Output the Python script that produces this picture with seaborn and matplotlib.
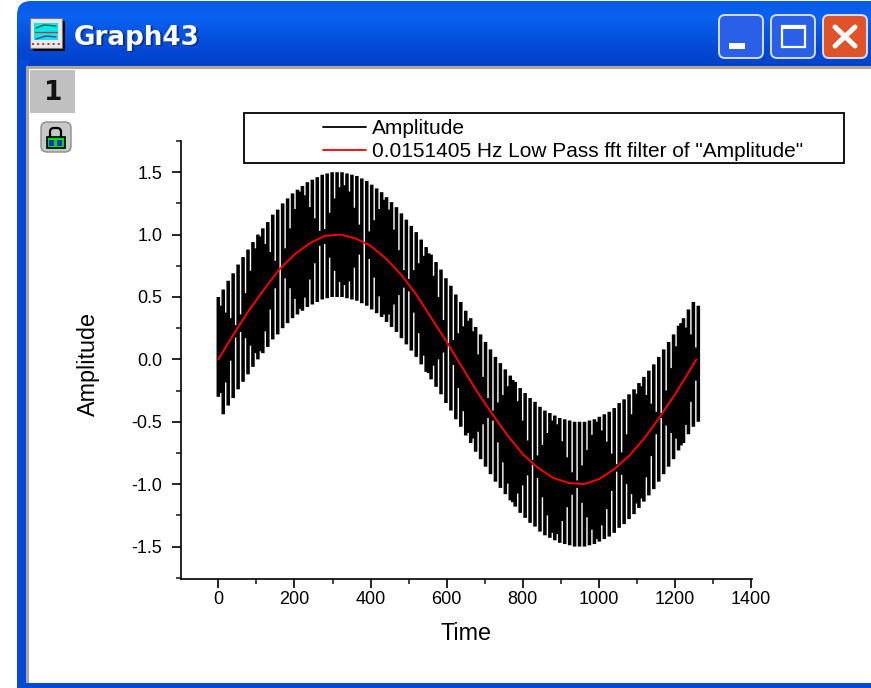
import numpy as np
import pandas as pd
import matplotlib
matplotlib.use("Agg")
import matplotlib.pyplot as plt
from matplotlib.lines import Line2D
from matplotlib.patches import FancyBboxPatch, Rectangle
from matplotlib.colors import LinearSegmentedColormap
from matplotlib.ticker import MultipleLocator
import seaborn as sns

# ---------- values ----------
spike_step = 13
peak_top = [0.50, 0.56, 0.63, 0.69, 0.76, 0.82, 0.88, 0.94, 1.00, 1.05,
            1.10, 1.16, 1.20, 1.25, 1.29, 1.33, 1.36, 1.39, 1.42, 1.44,
            1.46, 1.48, 1.49, 1.50, 1.50, 1.50, 1.49, 1.48, 1.47, 1.45,
            1.43, 1.40, 1.37, 1.34, 1.30, 1.26, 1.22, 1.17, 1.12, 1.07,
            1.02, 0.96, 0.90, 0.84, 0.78, 0.72, 0.65, 0.59, 0.52, 0.46,
            0.39, 0.33, 0.26, 0.20, 0.14, 0.08, 0.02, -0.03, -0.08, -0.13,
            -0.18, -0.23, -0.27, -0.31, -0.34, -0.38, -0.41, -0.43, -0.45, -0.47,
            -0.48, -0.49, -0.50, -0.50, -0.50, -0.49, -0.48, -0.46, -0.44, -0.42,
            -0.39, -0.35, -0.32, -0.28, -0.24, -0.19, -0.14, -0.09, -0.04, 0.02,
            0.08, 0.14, 0.20, 0.27, 0.33, 0.40, 0.46, 0.43]
peak_bottom = [-0.30, -0.44, -0.37, -0.31, -0.24, -0.18, -0.12, -0.06, 0.00, 0.05,
               0.10, 0.16, 0.20, 0.25, 0.29, 0.33, 0.36, 0.39, 0.42, 0.44,
               0.46, 0.48, 0.49, 0.50, 0.50, 0.50, 0.49, 0.48, 0.47, 0.45,
               0.43, 0.40, 0.37, 0.34, 0.30, 0.26, 0.22, 0.17, 0.12, 0.07,
               0.02, -0.04, -0.10, -0.16, -0.22, -0.28, -0.35, -0.41, -0.48, -0.54,
               -0.61, -0.67, -0.74, -0.80, -0.86, -0.92, -0.98, -1.03, -1.08, -1.13,
               -1.18, -1.23, -1.27, -1.31, -1.34, -1.38, -1.41, -1.43, -1.45, -1.47,
               -1.48, -1.49, -1.50, -1.50, -1.50, -1.49, -1.48, -1.46, -1.44, -1.42,
               -1.39, -1.35, -1.32, -1.28, -1.24, -1.19, -1.14, -1.09, -1.04, -0.98,
               -0.92, -0.86, -0.80, -0.73, -0.67, -0.60, -0.54, -0.50]
notch_depth = [0.10, 0.22, 0.33, 0.45, 0.43, 0.32, 0.20, 0.08, 0.04, 0.15,
               0.27, 0.39, 0.50, 0.38, 0.26, 0.14, 0.03, 0.09, 0.21, 0.32,
               0.44, 0.44, 0.32, 0.21, 0.12, 0.10, 0.14, 0.26, 0.38, 0.50,
               0.39, 0.27, 0.15, 0.04, 0.08, 0.20, 0.32, 0.43, 0.45, 0.33,
               0.22, 0.10, 0.02, 0.14, 0.25, 0.37, 0.49, 0.40, 0.28, 0.16,
               0.05, 0.07, 0.19, 0.31, 0.42, 0.46, 0.34, 0.23, 0.11, 0.01,
               0.13, 0.24, 0.36, 0.48, 0.41, 0.29, 0.17, 0.05, 0.06, 0.18,
               0.30, 0.41, 0.47, 0.35, 0.23, 0.12, 0.03, 0.12, 0.23, 0.35,
               0.47, 0.41, 0.30, 0.18, 0.06, 0.05, 0.17, 0.29, 0.41, 0.48,
               0.36, 0.24, 0.13, 0.01, 0.11, 0.23, 0.35]
filtered_time = [0, 40, 80, 120, 160, 200, 240, 280, 320, 360, 400, 440, 480, 520, 560, 600,
                 640, 680, 720, 760, 800, 840, 880, 920, 960, 1000, 1040, 1080, 1120, 1160,
                 1200, 1240, 1256]
filtered_amp = [0.00, 0.20, 0.39, 0.56, 0.72, 0.84, 0.93, 0.99, 1.00, 0.97, 0.91, 0.81, 0.68, 0.52, 0.33, 0.14,
                -0.06, -0.26, -0.44, -0.61, -0.76, -0.87, -0.95, -0.99, -1.00, -0.96, -0.88, -0.77, -0.63, -0.46,
                -0.28, -0.08, 0.00]
legend_labels = ["Amplitude", '0.0151405 Hz Low Pass fft filter of "Amplitude"']
x_label = "Time"
y_label = "Amplitude"
window_title = "Graph43"
layer_tab = "1"

# ---------- strokes of the dense signal, long form ----------
bar_time = np.arange(len(peak_top)) * spike_step
tops = np.array(peak_top)
bottoms = np.array(peak_bottom)
notch = np.array(notch_depth)
gap_time = bar_time[:-1] + spike_step / 2
gap_top = (tops[:-1] + tops[1:]) / 2 - notch
gap_bottom = (bottoms[:-1] + bottoms[1:]) / 2 + notch

n_bar, n_gap = len(bar_time), len(gap_time)
strokes = pd.DataFrame({
    "t": np.concatenate([bar_time, bar_time, gap_time, gap_time]),
    "y": np.concatenate([tops, bottoms, gap_top, gap_bottom]),
    "unit": np.concatenate([np.arange(n_bar), np.arange(n_bar),
                            n_bar + np.arange(n_gap), n_bar + np.arange(n_gap)]),
})
filtered = pd.DataFrame({"t": filtered_time, "y": filtered_amp})

sns.set_style("white")
plt.rcParams["font.family"] = ["Liberation Sans", "DejaVu Sans"]
plt.rcParams["axes.unicode_minus"] = False
plt.rcParams["text.color"] = "black"

W, H = 871, 688
fig = plt.figure(figsize=(W / 100, H / 100), dpi=100, facecolor="white")

# ---------- window frame, drawn in pixel coordinates ----------
bg = fig.add_axes([0, 0, 1, 1], zorder=0)
bg.set_xlim(0, W)
bg.set_ylim(H, 0)
bg.axis("off")

blue = LinearSegmentedColormap.from_list("xp", ["#0a5ae8", "#0a62f0", "#0554e2", "#0348d4", "#0043c8"])
head = FancyBboxPatch((17, 1), W + 40, 80, boxstyle="round,pad=0,rounding_size=14",
                      fc="none", ec="none", mutation_aspect=1)
bg.add_patch(head)
im = bg.imshow(np.linspace(0, 1, 70)[:, None], extent=(0, W, 68, 0), cmap=blue, aspect="auto", zorder=1)
im.set_clip_path(head)
bg.set_xlim(0, W)
bg.set_ylim(H, 0)
bg.add_patch(Rectangle((17, 60), 12, H, fc="#0449d8", ec="none", zorder=1))
bg.add_patch(Rectangle((26, 66), W, 620, fc="#aca899", ec="none", zorder=2))
bg.add_patch(Rectangle((29, 69), W, 614, fc="white", ec="none", zorder=3))
bg.add_patch(Rectangle((17, 683), W, 6, fc="#0449d8", ec="none", zorder=3.5))
bg.add_patch(Rectangle((30, 70), 45, 43, fc="#c0c0c0", ec="none", zorder=4))
bg.text(53, 93, layer_tab, fontsize=19, fontweight="bold", color="#111111",
        ha="center", va="center", family="DejaVu Sans", zorder=5)

# lock button
bg.add_patch(FancyBboxPatch((41, 122), 30, 30, boxstyle="round,pad=0,rounding_size=6",
                            fc="#c8c8c8", ec="#8c8c8c", lw=1, zorder=4))
bg.add_patch(Rectangle((47, 137), 18, 11, fc="#00e000", ec="black", lw=1.2, zorder=5))
bg.add_patch(Rectangle((49, 140), 5, 6, fc="#1030d0", ec="none", zorder=6))
bg.add_patch(Rectangle((57, 140), 5, 6, fc="#1030d0", ec="none", zorder=6))
bg.add_patch(FancyBboxPatch((50, 128), 11, 12, boxstyle="round,pad=0,rounding_size=4",
                            fc="none", ec="black", lw=1.6, zorder=4))

# title icon and title
bg.add_patch(Rectangle((33, 21), 32, 30, fc="black", ec="none", zorder=4))
bg.add_patch(Rectangle((30, 18), 32, 30, fc="#e8e8e8", ec="#777777", lw=0.8, zorder=5))
bg.add_patch(Rectangle((34, 23), 24, 17, fc="#00e8e8", ec="none", zorder=6))
bg.plot([35, 57], [32, 32], color="#d03030", lw=0.9, zorder=7)
bg.plot([36, 44, 56], [28, 25, 26], color="#206040", lw=1, zorder=7)
bg.plot([36, 46, 56], [39, 36, 37], color="#7030a0", lw=1, zorder=7)
bg.plot([32, 60], [44, 44], color="#c03030", lw=1.4, ls=":", zorder=7)
bg.text(75.5, 39.5, window_title, color="#0a2f90", fontsize=18.8, fontweight="bold",
        family="DejaVu Sans", ha="left", va="center", zorder=5)
bg.text(74, 38, window_title, color="white", fontsize=18.8, fontweight="bold",
        family="DejaVu Sans", ha="left", va="center", zorder=6)

# caption buttons
for x0, col in ((719, "#2a5fe8"), (771, "#2a5fe8"), (823, "#e0522a")):
    bg.add_patch(FancyBboxPatch((x0, 15), 44, 43, boxstyle="round,pad=0,rounding_size=6",
                                fc=col, ec="#d5def5", lw=1.4, zorder=4))
bg.add_patch(Rectangle((729, 43), 16, 6, fc="white", ec="none", zorder=5))
bg.add_patch(Rectangle((782, 26), 23, 21, fc="none", ec="white", lw=1.6, zorder=5))
bg.add_patch(Rectangle((782, 25), 23, 4, fc="white", ec="none", zorder=5))
bg.plot([835, 855], [27, 46], color="white", lw=3.6, zorder=5)
bg.plot([855, 835], [27, 46], color="white", lw=3.6, zorder=5)

# ---------- the plot ----------
L, R, T, B = 181, 752, 141, 579
ax = fig.add_axes([L / W, 1 - B / H, (R - L) / W, (B - T) / H], zorder=2)
ax.patch.set_alpha(0)

sns.lineplot(data=strokes, x="t", y="y", units="unit", estimator=None, sort=False,
             color="black", linewidth=2.55, solid_capstyle="butt", snap=False, legend=False, ax=ax)
sns.lineplot(data=filtered, x="t", y="y", estimator=None, sort=False,
             color="#ff0000", linewidth=1.4, legend=False, ax=ax)

ax.set_xlim(-98, 1402)
ax.set_ylim(-1.76, 1.75)
ax.xaxis.set_major_locator(MultipleLocator(200))
ax.xaxis.set_minor_locator(MultipleLocator(100))
ax.yaxis.set_major_locator(MultipleLocator(0.5))
ax.yaxis.set_minor_locator(MultipleLocator(0.25))
for s in ("top", "right"):
    ax.spines[s].set_visible(False)
for s in ("left", "bottom"):
    ax.spines[s].set_linewidth(1.2)
    ax.spines[s].set_color("black")
ax.tick_params(axis="both", which="major", direction="out", length=6.5, width=1.2,
               bottom=True, left=True, labelsize=13, colors="black")
ax.tick_params(axis="both", which="minor", direction="out", length=3.5, width=1.2,
               bottom=True, left=True)
ax.tick_params(axis="x", which="major", pad=2)
ax.tick_params(axis="y", which="major", pad=7)
ax.set_xlabel("")
ax.set_ylabel("")
fig.text(466 / W, 1 - 634 / H, x_label, fontsize=16.8, ha="center", va="center")
fig.text(88 / W, 1 - 364 / H, y_label, fontsize=16.8, ha="center", va="center", rotation=90)

# legend frame plus a real legend
bg.add_patch(Rectangle((244, 113), 600, 50, fc="white", ec="black", lw=1.3, zorder=5))
handles = [Line2D([], [], color="black", lw=1.3), Line2D([], [], color="#ff0000", lw=1.3)]
fig.legend(handles, legend_labels, loc="upper left",
           bbox_to_anchor=(323 / W, 1 - 119 / H), frameon=False, fontsize=15,
           handlelength=2.07, handletextpad=0.29, labelspacing=0.2,
           borderpad=0, borderaxespad=0)

fig.savefig("out.png", dpi=100)
